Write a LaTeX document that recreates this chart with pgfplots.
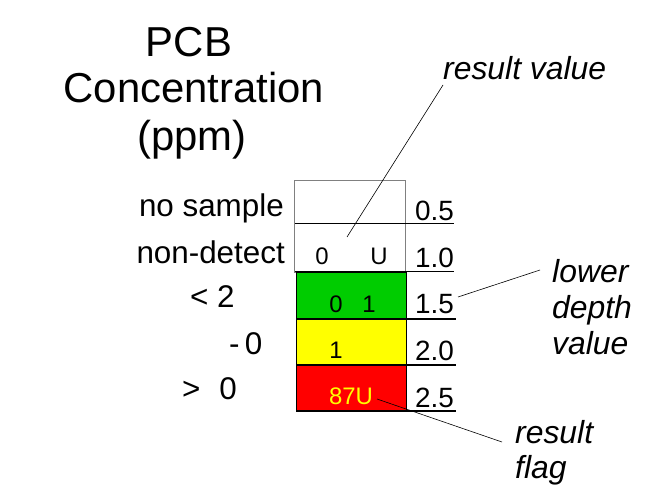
\documentclass[border=0pt]{standalone}
\usepackage{pgfplots}
\pgfplotsset{compat=1.18}
\usepackage{fontspec}
\setmainfont{Liberation Sans}
\definecolor{cgreen}{RGB}{0,204,0}
\definecolor{cyellow}{RGB}{255,255,0}
\definecolor{cred}{RGB}{255,0,0}
\newcommand{\fs}[1]{\fontsize{#1}{#1}\selectfont}
\begin{document}
\begin{tikzpicture}
\begin{axis}[width=655bp, height=487bp, scale only axis,
  xmin=0, xmax=655, ymin=0, ymax=487, y dir=reverse,
  hide axis, clip=false]
% white (no sample / non-detect) box
\addplot[draw=gray, line width=0.8pt] coordinates {(294,180) (405,180) (405,272) (294,272) (294,180)};
% coloured result cells
\addplot[fill=cgreen, draw=black, line width=0.8pt] coordinates {(296,272) (406,272) (406,319) (296,319)} -- cycle;
\addplot[fill=cyellow, draw=black, line width=0.8pt] coordinates {(296,319) (406,319) (406,365) (296,365)} -- cycle;
\addplot[fill=cred, draw=black, line width=0.8pt] coordinates {(296,365) (406,365) (406,411) (296,411)} -- cycle;
% depth lines
\addplot[black, line width=2pt] coordinates {(295,223.5) (454,223.5)};
\addplot[black, line width=2pt] coordinates {(295,271.5) (454,271.5)};
\addplot[black, line width=2pt] coordinates {(296,319) (456,319)};
\addplot[black, line width=2pt] coordinates {(296,365) (456,365)};
\addplot[black, line width=2pt] coordinates {(296,411) (456,411)};
% leader lines
\addplot[black, line width=0.6pt] coordinates {(443,85) (347,237)};
\addplot[black, line width=0.6pt] coordinates {(540,270) (458,297)};
\addplot[black, line width=0.6pt] coordinates {(377,399) (502,442)};
% title
\node[anchor=base, font=\fs{42}] at (axis cs:189,57) {PCB};
\node[anchor=base, font=\fs{42}] at (axis cs:194,103) {Concentration};
\node[anchor=base, font=\fs{42}] at (axis cs:192,150) {(ppm)};
% left labels
\node[anchor=base east, font=\fs{31.5}, inner sep=0pt] at (axis cs:284,216) {no sample};
\node[anchor=base east, font=\fs{31.5}, inner sep=0pt] at (axis cs:285,263) {non-detect};
\node[anchor=base west, font=\fs{31.5}, inner sep=0pt] at (axis cs:190,307) {< 2};
\node[anchor=base west, font=\fs{31.5}, inner sep=0pt] at (axis cs:229,354) {-\,0};
\node[anchor=base west, font=\fs{31.5}, inner sep=0pt] at (axis cs:182,399) {>\hspace{0.6em}0};
% depth values
\node[anchor=base west, font=\fs{28}, inner sep=0pt] at (axis cs:415,220) {0.5};
\node[anchor=base west, font=\fs{28}, inner sep=0pt] at (axis cs:415,267) {1.0};
\node[anchor=base west, font=\fs{28}, inner sep=0pt] at (axis cs:415,313) {1.5};
\node[anchor=base west, font=\fs{28}, inner sep=0pt] at (axis cs:415,360) {2.0};
\node[anchor=base west, font=\fs{28}, inner sep=0pt] at (axis cs:415,407) {2.5};
% cell texts
\node[anchor=base, font=\fs{24}, inner sep=0pt] at (axis cs:322,264) {0};
\node[anchor=base, font=\fs{24}, inner sep=0pt] at (axis cs:379,264) {U};
\node[anchor=base, font=\fs{24}, inner sep=0pt] at (axis cs:336,312) {0};
\node[anchor=base, font=\fs{24}, inner sep=0pt] at (axis cs:369,312) {1};
\node[anchor=base, font=\fs{24}, inner sep=0pt] at (axis cs:336,358) {1};
\node[anchor=base, font=\fs{24}, inner sep=0pt, text=cyellow] at (axis cs:351,404) {87U};
% annotations
\node[anchor=base west, font=\fs{32}\itshape, inner sep=0pt] at (axis cs:443,80) {result value};
\node[anchor=base west, font=\fs{32}\itshape, inner sep=0pt] at (axis cs:552,282) {lower};
\node[anchor=base west, font=\fs{32}\itshape, inner sep=0pt] at (axis cs:552,318) {depth};
\node[anchor=base west, font=\fs{32}\itshape, inner sep=0pt] at (axis cs:552,354) {value};
\node[anchor=base west, font=\fs{32}\itshape, inner sep=0pt] at (axis cs:515,443) {result};
\node[anchor=base west, font=\fs{32}\itshape, inner sep=0pt] at (axis cs:515,478) {flag};
\end{axis}
\pgfresetboundingbox
\path[use as bounding box] (current axis.south west) rectangle (current axis.north east);
\end{tikzpicture}
\end{document}
